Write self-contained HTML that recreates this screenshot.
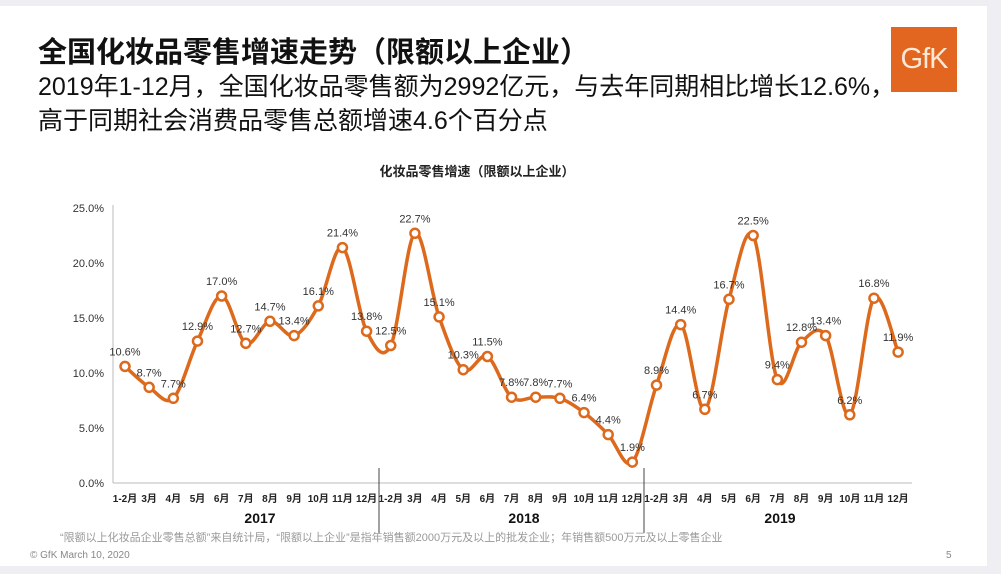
<!DOCTYPE html>
<html><head><meta charset="utf-8"><style>
body{margin:0;width:1001px;height:574px;background:#eeeef3;overflow:hidden;font-family:"Liberation Sans","Noto Sans CJK SC",sans-serif}
#slide{position:absolute;left:0;top:6px;width:987px;height:560px;background:#fff}
.t{position:absolute;color:#111;white-space:nowrap}
</style></head><body>
<div id="slide"></div>
<div class="t" style="left:38px;top:29px;font-size:29px;font-weight:bold">全国化妆品零售增速走势（限额以上企业）</div>
<div class="t" style="left:38px;top:67px;font-size:25px">2019年1-12月，全国化妆品零售额为2992亿元，与去年同期相比增长12.6%，</div>
<div class="t" style="left:38px;top:101px;font-size:25px">高于同期社会消费品零售总额增速4.6个百分点</div>
<div style="position:absolute;left:891px;top:27px;width:66px;height:65px;background:#e2661f;color:#fde9d8;font-size:29px;line-height:65px;text-align:center;letter-spacing:-1px">GfK</div>
<svg id="c" width="1001" height="574" style="position:absolute;left:0;top:0" font-family="Liberation Sans, Noto Sans CJK SC, sans-serif"></svg>
<script>
var d=[10.6,8.7,7.7,12.9,17.0,12.7,14.7,13.4,16.1,21.4,13.8,12.5,22.7,15.1,10.3,11.5,7.8,7.8,7.7,6.4,4.4,1.9,8.9,14.4,6.7,16.7,22.5,9.4,12.8,13.4,6.2,16.8,11.9];
var m=["1-2月","3月","4月","5月","6月","7月","8月","9月","10月","11月","12月"];
var s='<text x="477" y="176" font-size="13" font-weight="bold" text-anchor="middle" fill="#222">化妆品零售增速（限额以上企业）</text>';
s+='<line x1="113" y1="205" x2="113" y2="483" stroke="#bbb"/><line x1="113" y1="483" x2="912" y2="483" stroke="#bbb"/>';
for(var i=0;i<=5;i++){var y=483-i*55;s+='<text x="104" y="'+(y+4)+'" font-size="11" text-anchor="end" fill="#333">'+(i*5).toFixed(1)+'%</text>';}
function X(i){return 125+i*24.16}function Y(v){return 483-v*11}
for(i=0;i<33;i++)s+='<text x="'+X(i)+'" y="502" font-size="10" font-weight="bold" text-anchor="middle" fill="#222">'+m[i%11]+'</text>';
s+='<line x1="379" y1="468" x2="379" y2="533" stroke="#444"/><line x1="644" y1="468" x2="644" y2="533" stroke="#444"/>';
[['2017',260],['2018',524],['2019',780]].forEach(function(a){s+='<text x="'+a[1]+'" y="523" font-size="14" font-weight="bold" text-anchor="middle" fill="#111">'+a[0]+'</text>'});
var p=d.map(function(v,i){return[X(i),Y(v)]});var path='M'+p[0];
for(i=0;i<32;i++){var p0=p[Math.max(i-1,0)],p1=p[i],p2=p[i+1],p3=p[Math.min(i+2,32)];
path+=' C'+(p1[0]+(p2[0]-p0[0])/6)+','+(p1[1]+(p2[1]-p0[1])/6)+' '+(p2[0]-(p3[0]-p1[0])/6)+','+(p2[1]-(p3[1]-p1[1])/6)+' '+p2[0]+','+p2[1];}
s+='<path d="'+path+'" fill="none" stroke="#dd6a1c" stroke-width="3.5"/>';
for(i=0;i<33;i++){s+='<circle cx="'+p[i][0]+'" cy="'+p[i][1]+'" r="4.5" fill="#fff" stroke="#dd6a1c" stroke-width="2.5"/>';
s+='<text x="'+p[i][0]+'" y="'+(p[i][1]-11)+'" font-size="11" text-anchor="middle" fill="#333">'+d[i].toFixed(1)+'%</text>';}
s+='<text x="60" y="541" font-size="11" fill="#999">“限额以上化妆品企业零售总额”来自统计局，“限额以上企业”是指年销售额2000万元及以上的批发企业；年销售额500万元及以上零售企业</text>';
s+='<text x="30" y="558" font-size="10" fill="#888">© GfK March 10, 2020</text><text x="946" y="558" font-size="10" fill="#888">5</text>';
document.getElementById('c').innerHTML=s;
</script>
</body></html>
